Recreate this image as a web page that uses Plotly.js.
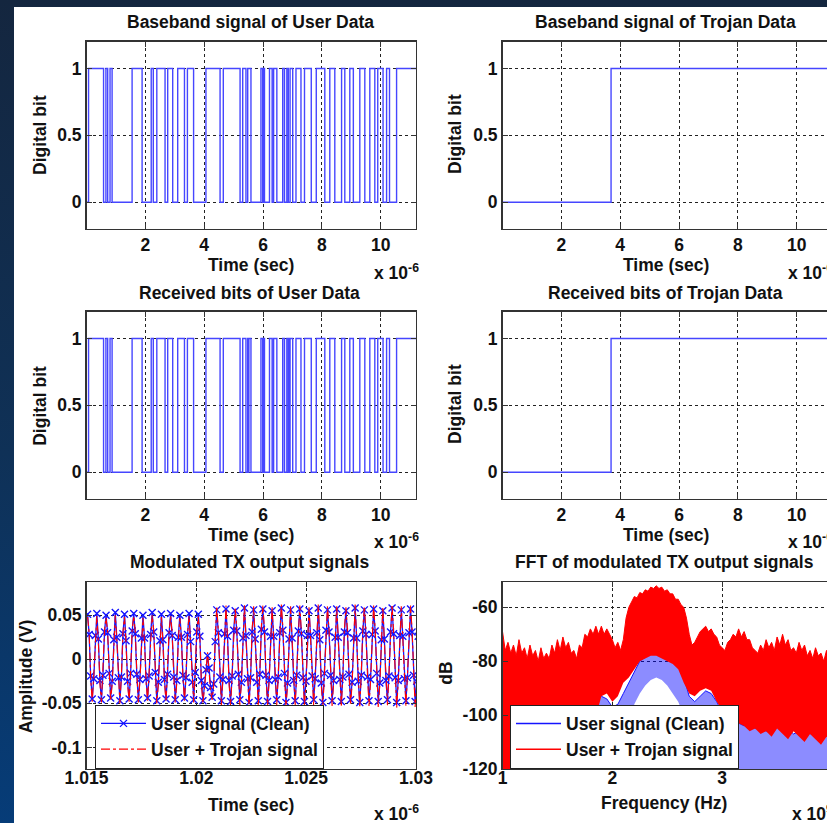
<!DOCTYPE html>
<html><head><meta charset="utf-8">
<script src="https://cdn.plot.ly/plotly-3.0.1.min.js"></script>
<style>
html,body{margin:0;padding:0;width:827px;height:823px;overflow:hidden;}
body{background:linear-gradient(to bottom,#14263f 0%,#0f3157 55%,#063c78 100%);position:relative;}
#panel{position:absolute;left:14px;top:7px;right:0;bottom:0;background:#fff;}
#chart{position:absolute;left:0;top:0;width:845px;height:823px;}
</style></head><body>
<div id="panel"></div><div id="chart"></div>
<script>
// ---------------- DATA ----------------
// Baseband bit streams: times (in 1e-6 s) where the level toggles, starting from 0
const tEnd = 11.2;
const userTxEdges = [0.07,0.58,0.66,0.72,0.80,0.87,1.55,1.89,2.20,2.27,2.39,2.67,2.76,2.93,3.10,3.33,3.43,3.64,
  4.06,4.54,4.65,5.22,5.31,5.42,5.48,5.59,5.93,5.99,6.02,6.05,6.22,6.31,6.36,6.47,6.67,6.73,6.81,6.86,6.92,7.01,
  7.12,7.29,7.41,7.64,7.81,8.10,8.27,8.44,8.67,8.78,8.95,9.07,9.29,9.46,9.63,9.80,9.90,10.08,10.20,10.30,10.54];
const userRxEdges = [0.07,0.58,0.66,0.72,0.80,0.87,1.55,1.89,2.20,2.27,2.39,2.67,2.76,2.93,3.10,3.33,3.43,3.64,
  4.06,4.54,4.65,5.22,5.31,5.42,5.48,5.50,5.52,5.59,5.93,5.99,6.02,6.05,6.22,6.31,6.36,6.47,6.67,6.73,6.81,6.86,6.88,6.90,6.92,7.01,
  7.12,7.29,7.41,7.64,7.81,8.10,8.27,8.44,8.67,8.78,8.95,9.07,9.29,9.46,9.63,9.80,9.90,10.08,10.20,10.30,10.54];
const trojanTxEdges = [3.69];
const trojanRxEdges = [3.69];

// Modulated TX output (V); samples start at modT0 (1e-6 s) spaced modDt
const modT0 = 1.01505, modDt = 0.00007;
const userClean = [
0.051,0.028,-0.019,-0.045,-0.022,0.027, 0.052,0.023,-0.024,-0.046,-0.018,0.031,
0.050,0.030,-0.016,-0.044,-0.025,0.022, 0.053,0.025,-0.021,-0.047,-0.020,0.029,
0.051,0.021,-0.025,-0.045,-0.016,0.032, 0.052,0.029,-0.017,-0.046,-0.023,0.024,
0.050,0.024,-0.022,-0.044,-0.019,0.028, 0.053,0.031,-0.015,-0.047,-0.026,0.021,
0.051,0.022,-0.023,-0.045,-0.017,0.030, 0.052,0.027,-0.020,-0.046,-0.024,0.025,
0.050,0.025,-0.018,-0.044,-0.021,0.028, 0.052,0.020,-0.026,-0.046,-0.015,0.031,
0.051,0.026,-0.024,-0.047,-0.030,-0.012, 0.004,-0.010,-0.032,-0.043,-0.028,0.020,
0.056,0.030,-0.020,-0.047,-0.023,0.029, 0.057,0.026,-0.024,-0.048,-0.019,0.033,
0.055,0.032,-0.017,-0.046,-0.026,0.024, 0.058,0.027,-0.022,-0.049,-0.021,0.031,
0.056,0.023,-0.026,-0.047,-0.017,0.034, 0.057,0.031,-0.018,-0.048,-0.024,0.026,
0.055,0.026,-0.023,-0.046,-0.020,0.030, 0.058,0.033,-0.016,-0.049,-0.027,0.023,
0.056,0.024,-0.024,-0.047,-0.018,0.032, 0.057,0.029,-0.021,-0.048,-0.025,0.027,
0.055,0.027,-0.019,-0.046,-0.022,0.030, 0.058,0.022,-0.027,-0.049,-0.016,0.033,
0.056,0.031,-0.018,-0.047,-0.024,0.025, 0.057,0.025,-0.023,-0.048,-0.020,0.031,
0.055,0.030,-0.017,-0.046,-0.026,0.024, 0.058,0.024,-0.025,-0.049,-0.018,0.032,
0.056,0.028,-0.020,-0.047,-0.023,0.028, 0.057,0.032,-0.016,-0.048,-0.027,0.022,
0.055,0.023,-0.024,-0.046,-0.019,0.031, 0.058,0.029,-0.021,-0.049,-0.024,0.027,
0.056,0.026,-0.022,-0.047,-0.021,0.030, 0.057,0.031,-0.018,-0.048,-0.025,0.026];
const userTrojan = [
0.048,0.030,-0.022,-0.048,-0.019,0.024, 0.049,0.020,-0.027,-0.049,-0.015,0.033,
0.047,0.032,-0.013,-0.047,-0.028,0.019, 0.050,0.022,-0.024,-0.050,-0.017,0.031,
0.048,0.018,-0.028,-0.048,-0.013,0.034, 0.049,0.031,-0.014,-0.049,-0.026,0.021,
0.047,0.021,-0.025,-0.047,-0.016,0.030, 0.050,0.033,-0.012,-0.050,-0.029,0.018,
0.048,0.019,-0.026,-0.048,-0.014,0.032, 0.049,0.029,-0.017,-0.049,-0.027,0.022,
0.047,0.022,-0.021,-0.047,-0.018,0.030, 0.049,0.017,-0.029,-0.049,-0.012,0.033,
0.048,0.024,-0.027,-0.050,-0.033,-0.015, 0.008,-0.014,-0.036,-0.046,-0.030,0.024,
0.060,0.033,-0.023,-0.053,-0.020,0.032, 0.061,0.023,-0.028,-0.054,-0.016,0.036,
0.059,0.035,-0.014,-0.052,-0.029,0.021, 0.062,0.024,-0.025,-0.055,-0.018,0.034,
0.060,0.020,-0.029,-0.053,-0.014,0.037, 0.061,0.034,-0.015,-0.054,-0.027,0.023,
0.059,0.023,-0.026,-0.052,-0.017,0.033, 0.062,0.036,-0.013,-0.055,-0.030,0.020,
0.060,0.021,-0.027,-0.053,-0.015,0.035, 0.061,0.032,-0.018,-0.054,-0.028,0.024,
0.059,0.024,-0.022,-0.052,-0.019,0.033, 0.062,0.019,-0.030,-0.055,-0.013,0.036,
0.060,0.034,-0.015,-0.053,-0.027,0.022, 0.061,0.022,-0.026,-0.054,-0.017,0.034,
0.059,0.033,-0.014,-0.052,-0.029,0.021, 0.062,0.021,-0.028,-0.055,-0.015,0.035,
0.060,0.031,-0.017,-0.053,-0.026,0.025, 0.061,0.035,-0.013,-0.054,-0.030,0.019,
0.059,0.020,-0.027,-0.052,-0.016,0.034, 0.062,0.032,-0.018,-0.055,-0.027,0.024,
0.060,0.023,-0.025,-0.053,-0.018,0.033, 0.061,0.034,-0.015,-0.054,-0.028,0.023];

// FFT (dB). Trojan upper edge sampled from fftF0 (1e9 Hz) every fftDfFine; other envelopes every fftDf
const fftF0 = 1.0, fftDf = 0.05, fftDfFine = 0.025;
const trojanUpper = [
  -69,-76,-73,-77,-74,-78,-72,-77,-75,-79,  -74,-78,-76,-80,-75,-79,-77,-79,-74,-77,
  -72,-76,-71,-75,-73,-77,-76,-79,-74,-75,  -70,-71,-68,-70,-67,-70,-67,-70,-68,-70,
  -72,-75,-73,-76,-72,-64,-60,-58,-56,-56.5, -54.5,-55,-53.5,-54,-52.5,-53,-52,-53,-52.5,-54,
  -53.5,-55,-55,-57,-57,-59,-60,-64,-70,-74, -73,-71,-69,-68,-67,-69,-68,-70,-71,-74,
  -75,-76,-73,-72,-70,-71,-68,-71,-69,-72,  -72,-75,-76,-77,-74,-76,-72,-75,-73,-76,
  -71,-74,-70,-74,-72,-76,-75,-77,-73,-76,  -74,-78,-76,-79,-75,-78,-77,-80,-76,-79, -78];
const trojanLower = [-120,-120,-120,-120,-120,-120,-120,-120,-120,-120,-120,-120,-120,-120,-118,-115,-108,-100,-93,-92,
  -95,-93,-88,-86,-83,-80,-79,-78,-78,-79,-80,-81,-83,-88,-92,-93,-91,-90,-91,-95,
  -98,-99,-101,-103,-104,-106,-105,-107,-106,-108,-105,-107,-109,-106,-108,-110,-107,-109,-111,-108,-110];
const cleanUpper = [-97,-98,-97,-99,-98,-97,-99,-98,-100,-98,-97,-96,-98,-99,-97,-95,-94,-93,-93,-94,
  -97,-96,-92,-88,-84,-80,-78.5,-77,-77,-78,-78.5,-80,-81,-86,-93,-95,-93,-91,-92,-95,
  -99,-101,-102,-103,-104,-103,-105,-104,-106,-105,-104,-106,-105,-107,-106,-105,-107,-106,-108,-107,-108];
const cleanLower = [-120,-120,-120,-120,-120,-120,-120,-120,-120,-120,-120,-120,-120,-120,-120,-120,-120,-120,-120,-120,
  -120,-120,-120,-120,-96,-92,-89,-87,-86,-87,-89,-92,-95,-100,-120,-120,-120,-120,-120,-120,
  -120,-120,-120,-120,-120,-120,-120,-120,-120,-120,-120,-120,-120,-120,-120,-120,-120,-120,-120,-120,-120];

const legendNames = ['User signal (Clean)', 'User + Trojan signal'];

// ---------------- BUILD ----------------
function stepXY(edges){
  const x=[0], y=[0]; let lv=0;
  edges.forEach(e=>{ lv=1-lv; x.push(e); y.push(lv); });
  x.push(tEnd); y.push(lv);
  return {x,y};
}
const W=845, H=823;
const px=v=>v/W, py=v=>1-v/H;
const BLUE='rgb(20,20,255)', STEPBLUE='rgb(70,70,255)', RED='rgb(255,0,0)';

const traces=[];
[[userTxEdges,'x','y'],[trojanTxEdges,'x2','y2'],[userRxEdges,'x3','y3'],[trojanRxEdges,'x4','y4']].forEach(([ed,xa,ya])=>{
  const s=stepXY(ed);
  traces.push({x:s.x,y:s.y,xaxis:xa,yaxis:ya,mode:'lines',line:{shape:'hv',color:STEPBLUE,width:1.4},showlegend:false,hoverinfo:'skip'});
});
traces.push({y:userClean,x0:modT0,dx:modDt,xaxis:'x5',yaxis:'y5',mode:'lines+markers',name:legendNames[0],
  line:{color:BLUE,width:1.3},marker:{symbol:'x-thin',size:7,line:{color:BLUE,width:1.4},color:BLUE},legend:'legend'});
traces.push({y:userTrojan,x0:modT0,dx:modDt,xaxis:'x5',yaxis:'y5',mode:'lines',name:legendNames[1],
  line:{color:RED,width:1.1,dash:'dashdot'},legend:'legend'});
// FFT bands
traces.push({y:cleanLower,x0:fftF0,dx:fftDf,xaxis:'x6',yaxis:'y6',mode:'lines',line:{width:0,color:BLUE},showlegend:false,hoverinfo:'skip'});
traces.push({y:cleanUpper,x0:fftF0,dx:fftDf,xaxis:'x6',yaxis:'y6',mode:'lines',line:{width:1,color:BLUE},fill:'tonexty',fillcolor:'rgba(0,0,255,0.45)',showlegend:false,hoverinfo:'skip'});
traces.push({y:trojanLower,x0:fftF0,dx:fftDf,xaxis:'x6',yaxis:'y6',mode:'lines',line:{width:0,color:RED},showlegend:false,hoverinfo:'skip'});
traces.push({y:trojanUpper,x0:fftF0,dx:fftDfFine,xaxis:'x6',yaxis:'y6',mode:'lines',line:{width:1,color:RED},fill:'tonexty',fillcolor:RED,showlegend:false,hoverinfo:'skip'});
traces.push({x:[null],y:[null],xaxis:'x6',yaxis:'y6',mode:'lines',name:legendNames[0],line:{color:BLUE,width:1.5},legend:'legend2'});
traces.push({x:[null],y:[null],xaxis:'x6',yaxis:'y6',mode:'lines',name:legendNames[1],line:{color:RED,width:1.5},legend:'legend2'});

const FONT={family:'"Liberation Sans", Arial, sans-serif',size:17.5,color:'#111',weight:'bold'};
function ax(extra){
  return Object.assign({showline:true,linecolor:'#333',linewidth:1.4,mirror:'ticks',ticks:'inside',ticklen:5,tickcolor:'#333',
    showgrid:true,gridcolor:'#222',griddash:'dot',gridwidth:1,zeroline:false,fixedrange:true,
    tickfont:FONT},extra);
}
const LX=[px(86.5),px(416)], RX=[px(502.5),px(832)];
const R1=[py(229),py(41.7)], R2=[py(499),py(311.7)], R3=[py(769),py(582)];
const tT={tickvals:[2,4,6,8,10],ticktext:['2','4','6','8','10'],range:[0,tEnd]};
const bitY={tickvals:[0,0.5,1],ticktext:['0','0.5','1'],range:[-0.2,1.2]};

const layout={
  width:W,height:H,margin:{l:0,r:0,t:0,b:0},paper_bgcolor:'rgba(0,0,0,0)',plot_bgcolor:'#fff',
  font:FONT,showlegend:true,
  xaxis:ax(Object.assign({domain:LX,anchor:'y'},tT)),
  yaxis:ax(Object.assign({domain:R1,anchor:'x'},bitY)),
  xaxis2:ax(Object.assign({domain:RX,anchor:'y2'},tT)),
  yaxis2:ax(Object.assign({domain:R1,anchor:'x2'},bitY)),
  xaxis3:ax(Object.assign({domain:LX,anchor:'y3'},tT)),
  yaxis3:ax(Object.assign({domain:R2,anchor:'x3'},bitY)),
  xaxis4:ax(Object.assign({domain:RX,anchor:'y4'},tT)),
  yaxis4:ax(Object.assign({domain:R2,anchor:'x4'},bitY)),
  xaxis5:ax({domain:LX,anchor:'y5',range:[1.015,1.03],tickvals:[1.015,1.02,1.025,1.03],ticktext:['1.015','1.02','1.025','1.03'],ticklabelstandoff:-7}),
  yaxis5:ax({domain:R3,anchor:'x5',range:[-0.1244,0.0876],tickvals:[-0.1,-0.05,0,0.05],ticktext:['-0.1','-0.05','0','0.05']}),
  xaxis6:ax({domain:RX,anchor:'y6',range:[1,4],tickvals:[1,2,3,4],ticktext:['1','2','3','4'],ticklabelstandoff:-7}),
  yaxis6:ax({domain:R3,anchor:'x6',range:[-120,-50.6],tickvals:[-120,-100,-80,-60],ticktext:['-120','-100','-80','-60']}),
  legend:{x:px(95),y:py(704.5),xanchor:'left',yanchor:'top',bgcolor:'#fff',bordercolor:'#222',borderwidth:1,font:FONT,itemwidth:45,tracegroupgap:0,traceorder:'normal'},
  legend2:{x:px(510),y:py(704.5),xanchor:'left',yanchor:'top',bgcolor:'#fff',bordercolor:'#222',borderwidth:1,font:FONT,itemwidth:45,tracegroupgap:0,traceorder:'normal'},
  annotations:[]
};
function ann(text,x,y,o){ layout.annotations.push(Object.assign({text,x:px(x),y:py(y),xref:'paper',yref:'paper',showarrow:false,xanchor:'center',yanchor:'middle',font:FONT},o||{})); }
ann('Baseband signal of User Data',250,21.7);
ann('Baseband signal of Trojan Data',665,21.7);
ann('Received bits of User Data',249,292.7);
ann('Received bits of Trojan Data',665,292.7);
ann('Modulated TX output signals',249.7,562);
ann('FFT of modulated TX output signals',664.5,562);
ann('Time (sec)',251,265); ann('Time (sec)',666,265);
ann('Time (sec)',251,535); ann('Time (sec)',666,535);
ann('Time (sec)',251,805); ann('Frequency (Hz)',664,803);
ann('Digital bit',40,135,{textangle:-90}); ann('Digital bit',455,134,{textangle:-90});
ann('Digital bit',40,405.8,{textangle:-90}); ann('Digital bit',455,404,{textangle:-90});
ann('Amplitude (V)',25.7,676.6,{textangle:-90}); ann('dB',445.8,673,{textangle:-90});
ann('x 10<sup>-6</sup>',372,271.5,{xanchor:'left'}); ann('x 10<sup>-6</sup>',786,271.5,{xanchor:'left'});
ann('x 10<sup>-6</sup>',372,541,{xanchor:'left'}); ann('x 10<sup>-6</sup>',786,541,{xanchor:'left'});
ann('x 10<sup>-6</sup>',372,813,{xanchor:'left'}); ann('x 10<sup>9</sup>',790,813,{xanchor:'left'});

Plotly.newPlot('chart',traces,layout,{staticPlot:true,displayModeBar:false});
</script></body></html>
